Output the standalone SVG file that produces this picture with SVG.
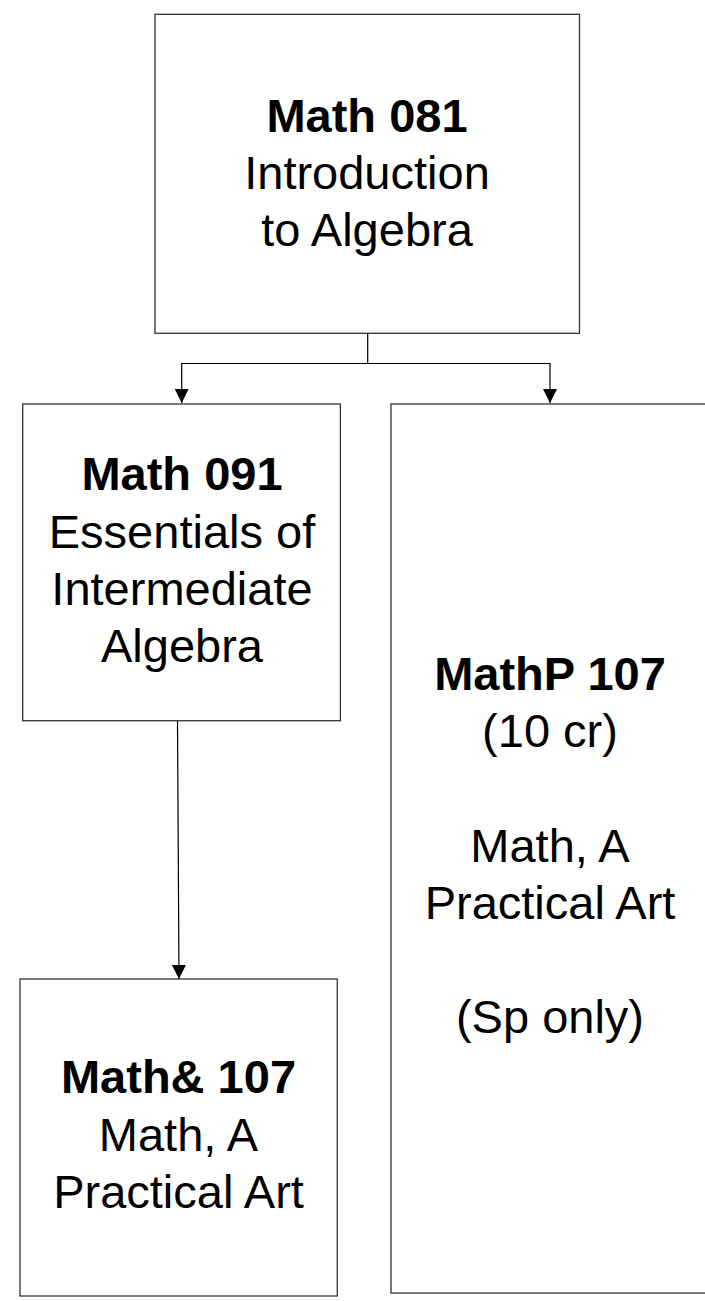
<svg xmlns="http://www.w3.org/2000/svg" width="705" height="1301" viewBox="0 0 705 1301">
<defs>
<style>
.box{fill:#fff;stroke:#333;stroke-width:1.3}
.t{font-family:"Liberation Sans",Arial,sans-serif;font-size:47px;fill:#000;text-anchor:middle}
.b{font-weight:bold}
.c{fill:none;stroke:#000;stroke-width:1.2}
</style>
<marker id="ah" markerWidth="14" markerHeight="14" refX="14" refY="7" orient="auto" markerUnits="userSpaceOnUse" viewBox="0 0 14 14">
<path d="M0,0 L14,7 L0,14 Z" fill="#000"/>
</marker>
</defs>
<rect width="705" height="1301" fill="#fff"/>
<g id="connectors">
<path class="c" d="M367.7,333 V363.5 H181.7 V403" marker-end="url(#ah)"/>
<path class="c" d="M367.7,363.5 H550 V403" marker-end="url(#ah)"/>
<path class="c" d="M177.5,721 L179,979" marker-end="url(#ah)"/>
</g>
<g id="math081">
<rect class="box" x="155" y="14.3" width="424.5" height="319"/>
<text class="t b" x="367" y="132">Math 081</text>
<text class="t" x="367" y="189">Introduction</text>
<text class="t" x="367" y="246">to Algebra</text>
</g>
<g id="math091">
<rect class="box" x="22.7" y="404" width="317.7" height="316.7"/>
<text class="t b" x="182" y="490">Math 091</text>
<text class="t" x="182" y="548">Essentials of</text>
<text class="t" x="182" y="605">Intermediate</text>
<text class="t" x="182" y="662">Algebra</text>
</g>
<g id="mathp107">
<rect class="box" x="391" y="404" width="318" height="889"/>
<text class="t b" x="550" y="690">MathP 107</text>
<text class="t" x="550" y="747">(10 cr)</text>
<text class="t" x="550" y="862">Math, A</text>
<text class="t" x="550" y="919">Practical Art</text>
<text class="t" x="550" y="1033">(Sp only)</text>
</g>
<g id="math107">
<rect class="box" x="20" y="979" width="317.3" height="317"/>
<text class="t b" x="178.5" y="1093">Math&amp; 107</text>
<text class="t" x="178.5" y="1151">Math, A</text>
<text class="t" x="178.5" y="1208">Practical Art</text>
</g>
</svg>
